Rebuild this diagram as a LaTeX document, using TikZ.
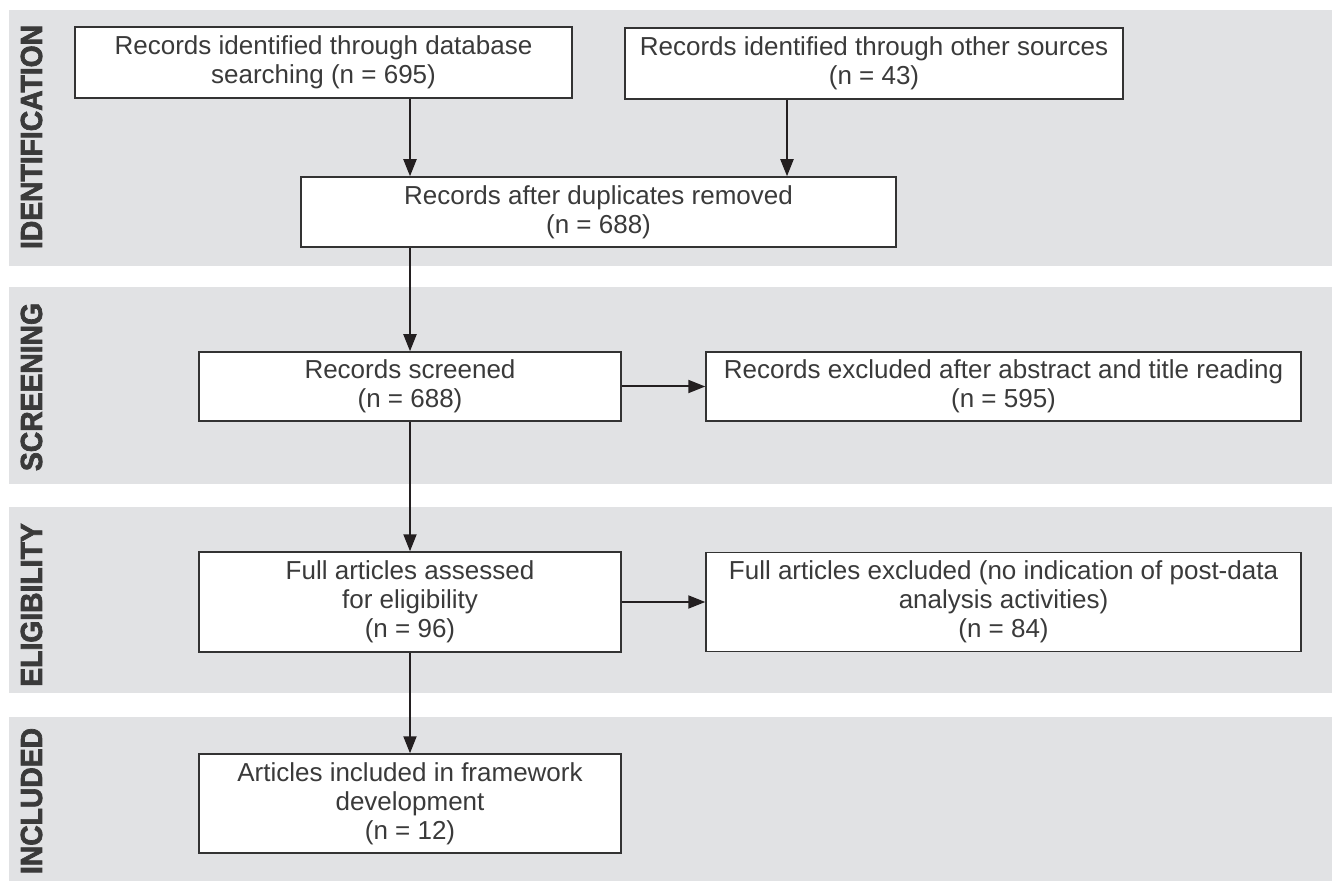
\documentclass[tikz,border=0pt]{standalone}
\usepackage{fontspec}
\setmainfont{Liberation Sans}
\newfontfamily\lblfont[FakeStretch=0.93]{Liberation Sans Bold}
\newcommand{\heavytext}[1]{\special{pdf:literal direct 2 Tr 0.35 w}#1\special{pdf:literal direct 0 Tr}}
\usetikzlibrary{arrows.meta}
\definecolor{bandgray}{HTML}{E1E2E4}
\definecolor{txtgray}{HTML}{3A3A3A}
\definecolor{linegray}{HTML}{333333}
\definecolor{arrowblk}{HTML}{231F20}
\tikzset{
  band/.style={fill=bandgray, draw=none},
  bandlabel/.style={rotate=90, text=txtgray, font=\lblfont\fontsize{15.2}{17}\selectfont, inner sep=0pt},
  flowbox/.style={draw=linegray, line width=0.75pt, fill=white, align=center, inner sep=0pt,
    text=txtgray, font=\fontsize{13}{14.5}\selectfont},
  arr/.style={draw=arrowblk, line width=1pt, -{Triangle[length=8.5pt,width=6.5pt]}}
}
\begin{document}
\begin{tikzpicture}[x=0.5pt,y=-0.5pt]
\useasboundingbox (0,0) rectangle (1332,881);
% bands
\fill[band] (9,10) rectangle (1332,266);
\fill[band] (9,287) rectangle (1332,484);
\fill[band] (9,507) rectangle (1332,693);
\fill[band] (9,717) rectangle (1332,881);
% band labels
\node[bandlabel] (lid) at (31.5,137) {\heavytext{IDENTIFICATION}};
\node[bandlabel] (lsc) at (31.5,387) {\heavytext{SCREENING}};
\node[bandlabel] (lel) at (31.5,605) {\heavytext{ELIGIBILITY}};
\node[bandlabel] (lin) at (31.5,801) {\heavytext{INCLUDED}};
% boxes
\node[flowbox, minimum width=248.5pt, minimum height=35.5pt] (A) at (323.5,62.5)
  {Records identified through database\\searching (n = 695)};
\node[flowbox, minimum width=249pt, minimum height=35.5pt] (B) at (874,63.5)
  {Records identified through other sources\\(n = 43)};
\node[flowbox, minimum width=297.5pt, minimum height=35pt] (C) at (598.5,212)
  {Records after duplicates removed\\(n = 688)};
\node[flowbox, minimum width=211pt, minimum height=34.5pt] (D) at (410,386.5)
  {Records screened\\(n = 688)};
\node[flowbox, minimum width=297.5pt, minimum height=34.5pt] (E) at (1003.5,386.5)
  {Records excluded after abstract and title reading\\(n = 595)};
\node[flowbox, minimum width=211pt, minimum height=50pt] (F) at (410,602)
  {Full articles assessed\\for eligibility\\(n = 96)};
\node[flowbox, minimum width=297.5pt, minimum height=49.5pt] (G) at (1003.5,602)
  {Full articles excluded (no indication of post-data\\analysis activities)\\(n = 84)};
\node[flowbox, minimum width=211pt, minimum height=49.5pt] (H) at (410,803.5)
  {Articles included in framework\\development\\(n = 12)};
% connectors
\coordinate (bx) at (787,0);
\draw[arr] (A.south -| D.north) -- (C.north -| D.north);
\draw[arr] (B.south -| bx) -- (C.north -| bx);
\draw[arr] (C.south -| D.north) -- (D.north);
\draw[arr] (D.east) -- (E.west);
\draw[arr] (D.south) -- (F.north);
\draw[arr] (F.east) -- (G.west);
\draw[arr] (F.south) -- (H.north);
\end{tikzpicture}
\end{document}
